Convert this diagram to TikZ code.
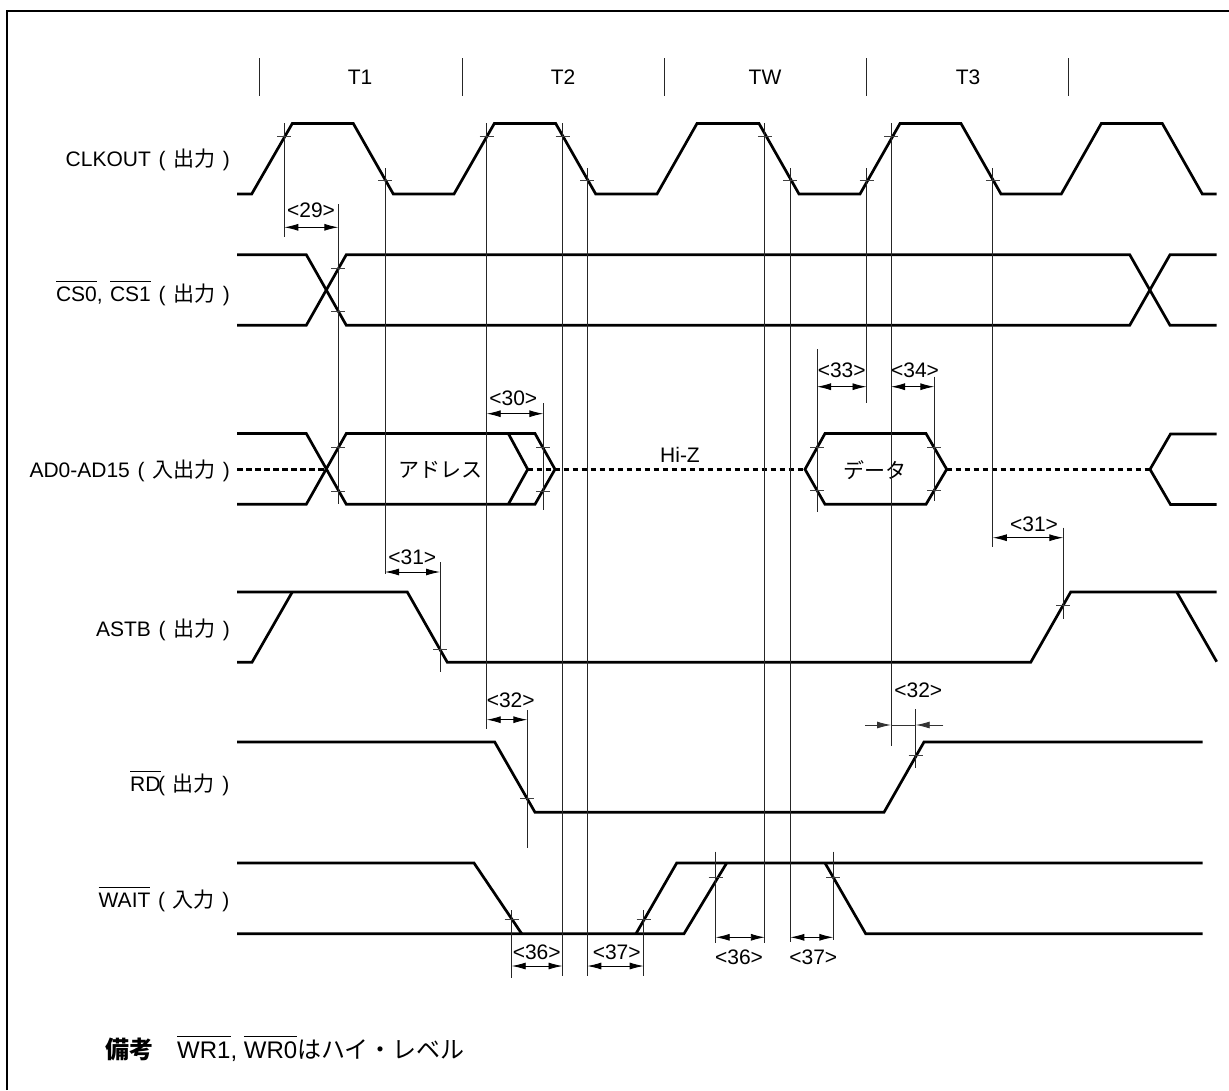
\documentclass[tikz,border=0pt]{standalone}
\usepackage{fontspec}
\setmainfont{Liberation Sans}
\newfontfamily\cjk{Noto Sans CJK JP}
\usetikzlibrary{arrows.meta}
\newcommand{\ovl}[1]{\leavevmode\vbox{\hrule height 0.9pt\kern 4.6pt\hbox{#1}}}
\newcommand{\pk}{\kern1.8pt}
\tikzset{
  sig/.style={line width=2.7pt,line join=miter,line cap=butt},
  hiz/.style={line width=2.6pt,dash pattern=on 5.5pt off 3.5pt},
  vl/.style={line width=1pt,black!85},
  tick/.style={line width=1pt,black!75},
  dimboth/.style={line width=0.9pt,{Latex[length=14pt,width=7pt]}-{Latex[length=14pt,width=7pt]}},
  dimin/.style={line width=0.9pt,black!80,-{Latex[length=14pt,width=7pt]}},
  txt/.style={inner sep=0pt,font=\fontsize{21}{25}\selectfont},
  lab/.style={txt,anchor=base east},
  dimlab/.style={txt,anchor=center},
}
\begin{document}
\begin{tikzpicture}[x=1pt,y=-1pt]
\useasboundingbox (0,0) rectangle (1229,1090);
\fill[white] (0,0) rectangle (1229,1090);
% frame
\draw[line width=2pt] (6.5,1090) -- (6.5,10.5) -- (1229,10.5);
% cycle marks
\foreach \x in {259.5,462,664,866.5,1068.5}
  \draw[vl] (\x,58) -- (\x,96);
\node[txt] (t1) at (360,77) {T1};
\node[txt] (t2) at (563,77) {T2};
\node[txt] (tw) at (765,77) {TW};
\node[txt] (t3) at (968,77) {T3};
% signal labels
\node[lab] (lclk) at (230,166) {CLKOUT\pk{} (\pk{} {\cjk 出力}\pk{} )};
\node[lab] (lcs) at (230,301) {\ovl{CS0},\kern1.5pt{} \ovl{CS1}\pk{} (\pk{} {\cjk 出力}\pk{} )};
\node[lab] (lad) at (230,477.3) {AD0-AD15\pk{} (\pk{} {\cjk 入出力}\pk{} )};
\node[lab] (last) at (230,636) {ASTB\pk{} (\pk{} {\cjk 出力}\pk{} )};
\node[lab] (lrd) at (229.5,791) {\ovl{RD}\kern-2.5pt(\pk{} {\cjk 出力}\pk{} )};
\node[lab] (lwait) at (229.5,907) {\ovl{WAIT}\pk{} (\pk{} {\cjk 入力}\pk{} )};
% CLKOUT
\draw[sig] (237,194) -- (251.7,194) -- (292.3,123.5) -- (353.3,123.5) -- (393.3,194) -- (454,194) -- (494.3,123.5) -- (555.7,123.5) -- (595.7,194) -- (657,194) -- (697,123.5) -- (759,123.5) -- (799,194) -- (860,194) -- (900,123.5) -- (961,123.5) -- (1001,194) -- (1061.3,194) -- (1101.3,123.5) -- (1162.3,123.5) -- (1202.3,194) -- (1216.7,194);
% CS
\draw[sig] (237,254.7) -- (306.3,254.7) -- (346.3,325.3) -- (1129.7,325.3) -- (1170,254.7) -- (1216.7,254.7);
\draw[sig] (237,325.3) -- (306.3,325.3) -- (346.3,254.7) -- (1129.7,254.7) -- (1170,325.3) -- (1216.7,325.3);
% AD
\draw[hiz] (237,469.3) -- (326,469.3);
\draw[hiz] (527.7,469.3) -- (805,469.3);
\draw[hiz] (946.7,469.3) -- (1150,469.3);
\draw[sig] (237,433.5) -- (306.3,433.5) -- (346.3,504.3) -- (535,504.3) -- (555,469.3) -- (535,433.5) -- (346.3,433.5) -- (306.3,504.3) -- (237,504.3);
\draw[sig] (508.3,433.5) -- (527.7,469.3) -- (508.3,504.3);
\draw[sig] (805,469.3) -- (825,433.5) -- (926,433.5) -- (946.7,469.3) -- (926,504.3) -- (825,504.3) -- cycle;
\draw[sig] (1216.7,434) -- (1170.5,434) -- (1150,469.3) -- (1170.5,504.5) -- (1216.7,504.5);
\node[txt] (addr) at (440,470) {\cjk アドレス};
\node[txt] (data) at (875,470) {\cjk データ};
\node[txt,anchor=base] (hizl) at (680,462) {Hi-Z};
% ASTB
\draw[sig] (237,662.3) -- (252,662.3) -- (292.3,592);
\draw[sig] (237,592) -- (407.3,592) -- (447.3,662.3) -- (1030.7,662.3) -- (1070.7,592) -- (1216.7,592);
\draw[sig] (1176.7,592) -- (1216.7,661.7);
% RD
\draw[sig] (237,742) -- (494.7,742) -- (535,812.3) -- (884,812.3) -- (924,742) -- (1202.7,742);
% WAIT
\draw[sig] (237,863) -- (474,863) -- (521.7,933.7);
\draw[sig] (237,933.7) -- (684,933.7) -- (726.7,863);
\draw[sig] (636,933.7) -- (676.7,863) -- (1202.7,863);
\draw[sig] (825,863) -- (865.7,933.7) -- (1202.7,933.7);
% vertical reference lines
\foreach \x/\a/\b in {284.3/123/237, 385/168/574.3, 486.7/123/729, 562.5/123/976, 587.3/168/976, 764.8/123/943.3, 790.3/168/941.7, 866.5/168/403.3, 891/123/745.7, 992.8/168/547.3, 338.3/204.3/504, 543.3/403.3/510, 817/349/511.7, 934.3/376.7/500.7, 440/562/672.3, 1063.3/527.7/618.7, 527.3/710/847.7, 915.7/709.3/767.7, 511.7/910/977.7, 643.7/910/976, 715.7/851.7/943.3, 833.3/851.7/940.3}
  \draw[vl] (\x,\a) -- (\x,\b);
% ticks
\foreach \x/\y in {284.3/136.7, 486.7/136.7, 562.5/136.7, 764.8/136.7, 891/136.7, 385/180.7, 587.3/180.7, 790.3/180.7, 866.5/180.7, 992.8/180.7, 338.3/268.3, 338.3/311.3, 338.3/447.7, 338.3/491.3, 543.3/447.7, 543.3/491.3, 817/447.7, 817/490.7, 934.3/447.7, 934.3/490.7, 440/649, 1063.3/605.7, 527.3/798.3, 915.7/755.7, 511.7/919.7, 643.7/919.7, 715.7/877.3, 833.3/877.3}
  \draw[tick] (\x-7,\y) -- (\x+7,\y);
% dimension arrows and labels
\draw[dimboth] (284.3,227.3) -- (338.3,227.3);
\node[dimlab] (d29) at (311,210.5) {<29>};
\draw[dimboth] (486.7,413.7) -- (543.3,413.7);
\node[dimlab] (d30) at (513.3,398) {<30>};
\draw[dimboth] (385,572) -- (440,572);
\node[dimlab] (d31a) at (412.3,557.3) {<31>};
\draw[dimboth] (992.8,537.7) -- (1063.3,537.7);
\node[dimlab] (d31b) at (1034,524) {<31>};
\draw[dimboth] (486.7,719.7) -- (527.3,719.7);
\node[dimlab] (d32a) at (510.7,700.7) {<32>};
\draw[dimin] (865,725) -- (891,725);
\draw[dimin] (943.3,725) -- (915.7,725);
\draw[line width=0.9pt,black!80] (891,725) -- (915.7,725);
\node[dimlab] (d32b) at (918.3,690) {<32>};
\draw[dimboth] (817,386.7) -- (866.5,386.7);
\node[dimlab] (d33) at (841.7,370.7) {<33>};
\draw[dimboth] (891,386.7) -- (934.3,386.7);
\node[dimlab] (d34) at (915,370.7) {<34>};
\draw[dimboth] (511.7,966) -- (562.5,966);
\node[dimlab] (d36a) at (536.7,952.7) {<36>};
\draw[dimboth] (587.3,966) -- (643.7,966);
\node[dimlab] (d37a) at (616.7,952.7) {<37>};
\draw[dimboth] (715.7,937.3) -- (764.8,937.3);
\node[dimlab] (d36b) at (739,957.7) {<36>};
\draw[dimboth] (790.3,937.3) -- (833.3,937.3);
\node[dimlab] (d37b) at (813.3,957.7) {<37>};
% remark
\node[inner sep=0pt,anchor=base west,font=\fontsize{24}{28}\selectfont] (rem) at (105,1058) {{\cjk\bfseries 備考}\hspace{24pt}\ovl{WR1}, \ovl{WR0}{\cjk はハイ・レベル}};
\end{tikzpicture}
\end{document}
